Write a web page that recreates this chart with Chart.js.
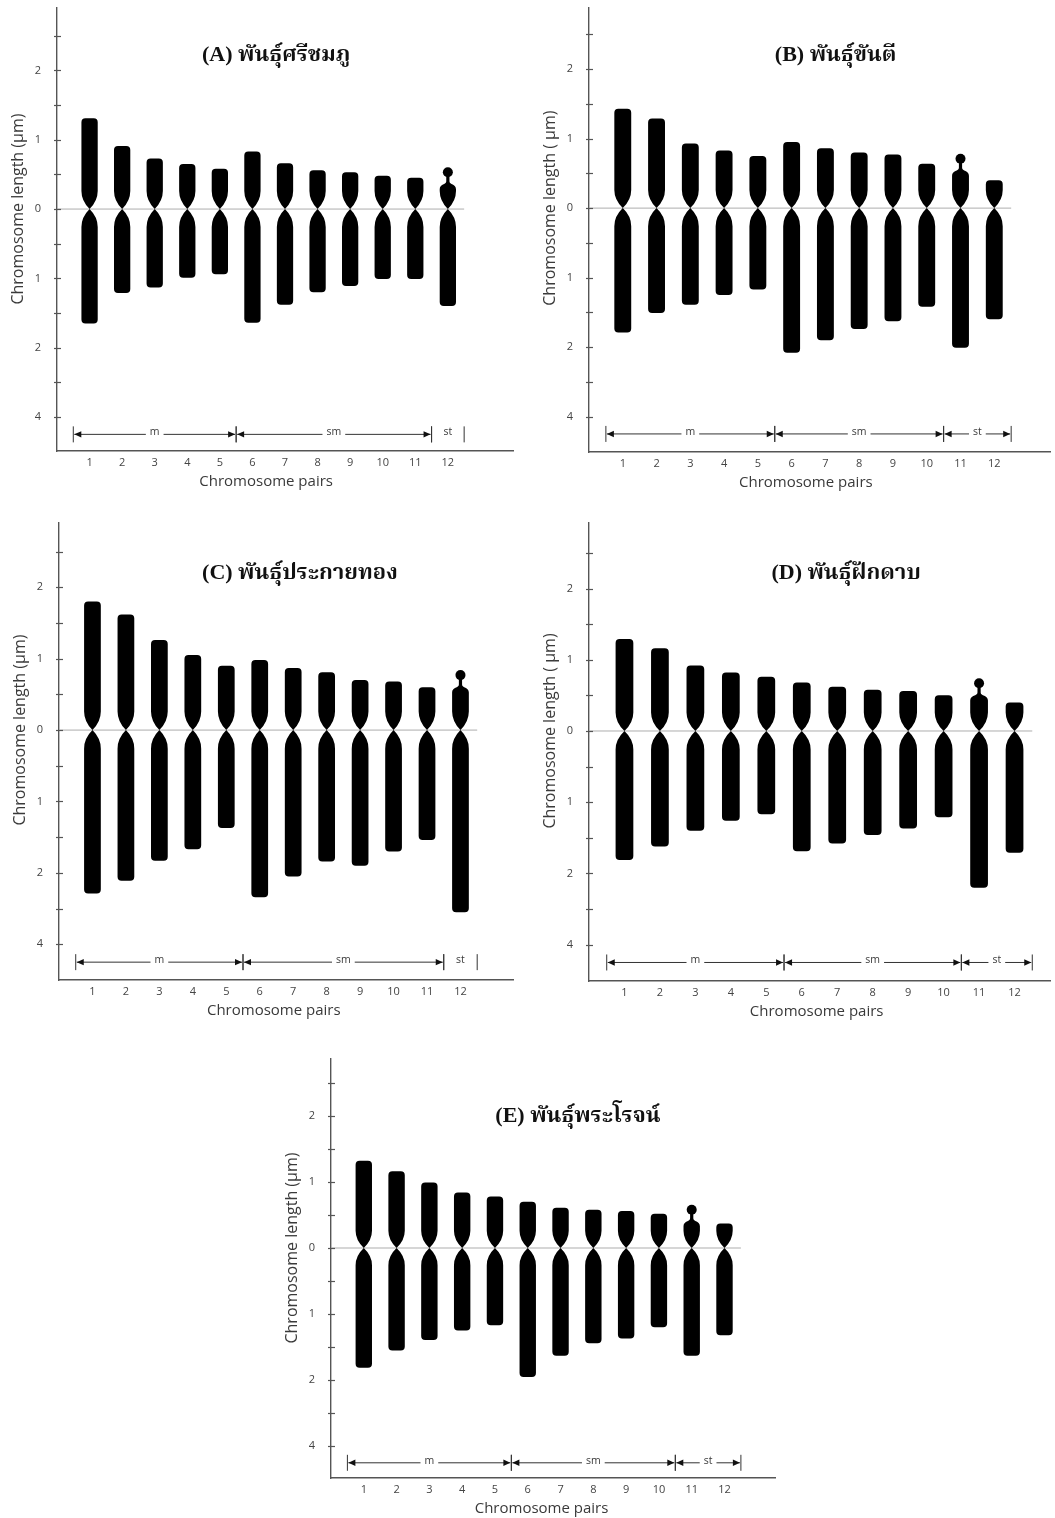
<!DOCTYPE html>
<html>
<head>
<meta charset="utf-8">
<script src="https://cdn.jsdelivr.net/npm/chart.js@4.4.1/dist/chart.umd.min.js"></script>
<style>
  html, body { margin: 0; padding: 0; background: #fff; }
  body { position: relative; width: 1055px; height: 1518px; overflow: hidden; }
  canvas { position: absolute; }
</style>
</head>
<body>
<canvas id="panelA"></canvas>
<canvas id="panelB"></canvas>
<canvas id="panelC"></canvas>
<canvas id="panelD"></canvas>
<canvas id="panelE"></canvas>
<script>
const pairs = [1, 2, 3, 4, 5, 6, 7, 8, 9, 10, 11, 12]

const shortA = [1.31, 0.91, 0.73, 0.65, 0.58, 0.83, 0.66, 0.56, 0.53, 0.48, 0.45, 0.40]
const longA = [1.65, 1.21, 1.13, 0.99, 0.94, 1.64, 1.38, 1.20, 1.11, 1.01, 1.01, 1.40]
const satPairA = 12
const satA = 0.53

const shortB = [1.43, 1.29, 0.93, 0.83, 0.75, 0.95, 0.86, 0.80, 0.77, 0.64, 0.58, 0.40]
const longB = [1.79, 1.51, 1.39, 1.25, 1.17, 2.08, 1.90, 1.74, 1.63, 1.42, 2.01, 1.60]
const satPairB = 11
const satB = 0.71

const shortC = [1.80, 1.62, 1.26, 1.05, 0.90, 0.98, 0.87, 0.81, 0.70, 0.68, 0.60, 0.64]
const longC = [2.29, 2.11, 1.83, 1.67, 1.37, 2.34, 2.05, 1.84, 1.90, 1.70, 1.54, 2.55]
const satPairC = 12
const satC = 0.77

const shortD = [1.29, 1.16, 0.92, 0.82, 0.76, 0.68, 0.62, 0.58, 0.56, 0.50, 0.54, 0.40]
const longD = [1.81, 1.62, 1.40, 1.26, 1.17, 1.69, 1.58, 1.46, 1.37, 1.21, 2.20, 1.71]
const satPairD = 11
const satD = 0.67

const shortE = [1.32, 1.16, 0.99, 0.84, 0.78, 0.70, 0.61, 0.58, 0.56, 0.52, 0.45, 0.37]
const longE = [1.81, 1.55, 1.39, 1.25, 1.17, 1.95, 1.63, 1.44, 1.37, 1.20, 1.63, 1.32]
const satPairE = 11
const satE = 0.58

// chromosome types (first and last pair of each group)
const classNames = ['m', 'sm', 'st']
const classFirst12 = [1, 6, 12]
const classLast12 = [5, 11, 12]
const classFirst11 = [1, 6, 11]
const classLast11 = [5, 10, 12]

const yTicks = [2.5, 2, 1.5, 1, 0.5, 0, -0.5, -1, -1.5, -2, -2.5, -3]
const yLabelValues = [2, 1, 0, -1, -2, -3]
const yLabelTexts = ['2', '1', '0', '1', '2', '4']

const panels = [
  {
    id: 'panelA', title: '(A) พันธุ์ศรีชมภู', yTitle: 'Chromosome length (μm)',
    shortArm: shortA, longArm: longA, satPair: satPairA, sat: satA, first: classFirst12, last: classLast12,
    box: { left: 0, top: 0, width: 530, height: 500 }, area: { left: 57, top: 8, right: 513, bottom: 451 },
    xMax: 14.0, yMin: -3.49, yMax: 2.90, titleAt: [6.73, 2.22],
  },
  {
    id: 'panelB', title: '(B) พันธุ์ขันตี', yTitle: 'Chromosome length ( μm)',
    shortArm: shortB, longArm: longB, satPair: satPairB, sat: satB, first: classFirst11, last: classLast11,
    box: { left: 530, top: 0, width: 525, height: 500 }, area: { left: 59, top: 8, right: 523, bottom: 452 },
    xMax: 13.65, yMin: -3.51, yMax: 2.88, titleAt: [7.3, 2.2],
  },
  {
    id: 'panelC', title: '(C) พันธุ์ประกายทอง', yTitle: 'Chromosome length (μm)',
    shortArm: shortC, longArm: longC, satPair: satPairC, sat: satC, first: classFirst12, last: classLast12,
    box: { left: 0, top: 510, width: 530, height: 520 }, area: { left: 59, top: 13, right: 513, bottom: 470 },
    xMax: 13.57, yMin: -3.50, yMax: 2.90, titleAt: [7.2, 2.19],
  },
  {
    id: 'panelD', title: '(D) พันธุ์ฝักดาบ', yTitle: 'Chromosome length ( μm)',
    shortArm: shortD, longArm: longD, satPair: satPairD, sat: satD, first: classFirst11, last: classLast11,
    box: { left: 530, top: 510, width: 525, height: 520 }, area: { left: 59, top: 13, right: 523, bottom: 471 },
    xMax: 13.0, yMin: -3.51, yMax: 2.92, titleAt: [7.25, 2.22],
  },
  {
    id: 'panelE', title: '(E) พันธุ์พระโรจน์', yTitle: 'Chromosome length (μm)',
    shortArm: shortE, longArm: longE, satPair: satPairE, sat: satE, first: classFirst11, last: classLast11,
    box: { left: 260, top: 1030, width: 540, height: 488 }, area: { left: 71, top: 29, right: 515, bottom: 448 },
    xMax: 13.54, yMin: -3.48, yMax: 2.86, titleAt: [7.53, 1.99],
  },
]

const X_AXIS_HEIGHT = 40
const AXIS_COLOR = '#555'
const TEXT_COLOR = '#3a3a3a'
const SAT_RADIUS = 5

Chart.defaults.font.family = '"Open Sans", "Noto Sans", sans-serif'

function drawChromosome(ctx, cx, half, top, mid, bottom, taper, satY) {
  const r = Math.min(4, half)
  const bulge = taper * 0.45
  const cap = 8
  const neck = 1.6
  ctx.beginPath()
  if (satY !== null) {
    // bell shaped top with a thin stalk up to the satellite
    ctx.moveTo(cx - neck, satY)
    ctx.lineTo(cx + neck, satY)
    ctx.lineTo(cx + neck, top)
    ctx.bezierCurveTo(cx + neck, top + cap * 0.45, cx + half, top + cap * 0.3, cx + half, top + cap)
  } else {
    ctx.moveTo(cx - half, top + r)
    ctx.quadraticCurveTo(cx - half, top, cx - half + r, top)
    ctx.lineTo(cx + half - r, top)
    ctx.quadraticCurveTo(cx + half, top, cx + half, top + r)
  }
  ctx.lineTo(cx + half, mid - taper)
  ctx.quadraticCurveTo(cx + half, mid - bulge, cx, mid)
  ctx.quadraticCurveTo(cx + half, mid + bulge, cx + half, mid + taper)
  ctx.lineTo(cx + half, bottom - r)
  ctx.quadraticCurveTo(cx + half, bottom, cx + half - r, bottom)
  ctx.lineTo(cx - half + r, bottom)
  ctx.quadraticCurveTo(cx - half, bottom, cx - half, bottom - r)
  ctx.lineTo(cx - half, mid + taper)
  ctx.quadraticCurveTo(cx - half, mid + bulge, cx, mid)
  ctx.quadraticCurveTo(cx - half, mid - bulge, cx - half, mid - taper)
  if (satY !== null) {
    ctx.lineTo(cx - half, top + cap)
    ctx.bezierCurveTo(cx - half, top + cap * 0.3, cx - neck, top + cap * 0.45, cx - neck, top)
  }
  ctx.closePath()
  ctx.fill()
}

function arrowHead(ctx, tipX, y, dir) {
  ctx.beginPath()
  ctx.moveTo(tipX, y)
  ctx.lineTo(tipX - dir * 7, y - 3.2)
  ctx.lineTo(tipX - dir * 7, y + 3.2)
  ctx.closePath()
  ctx.fill()
}

const karyotype = {
  id: 'karyotype',
  beforeDatasetsDraw(chart, args, opts) {
    const { ctx, scales: { x, y } } = chart
    ctx.save()
    ctx.strokeStyle = '#adadad'
    ctx.lineWidth = 1
    ctx.beginPath()
    ctx.moveTo(x.getPixelForValue(0), y.getPixelForValue(0))
    ctx.lineTo(x.getPixelForValue(12.5), y.getPixelForValue(0))
    ctx.stroke()
    ctx.restore()
  },
  afterDatasetsDraw(chart, args, opts) {
    const { ctx, scales: { y } } = chart
    const shortMeta = chart.getDatasetMeta(0)
    const longMeta = chart.getDatasetMeta(1)
    const satPoint = chart.getDatasetMeta(2).data[0]
    const mid = y.getPixelForValue(0)
    const taper = Math.abs(y.getPixelForValue(0.26) - mid)
    ctx.save()
    ctx.fillStyle = '#000'
    shortMeta.data.forEach((bar, i) => {
      const low = longMeta.data[i]
      const top = Math.min(bar.y, bar.base)
      const bottom = Math.max(low.y, low.base)
      const satY = pairs[i] === opts.satPair ? satPoint.y + SAT_RADIUS - 1 : null
      drawChromosome(ctx, bar.x, bar.width / 2, top, mid, bottom, taper, satY)
    })
    ctx.restore()
  },
  afterDraw(chart, args, opts) {
    const { ctx, scales: { x, y } } = chart
    ctx.save()

    // tick marks crossing the y axis
    ctx.strokeStyle = AXIS_COLOR
    ctx.lineWidth = 1.2
    yTicks.forEach((v) => {
      const py = Math.round(y.getPixelForValue(v)) + 0.5
      ctx.beginPath()
      ctx.moveTo(y.right - 3, py)
      ctx.lineTo(y.right + 4, py)
      ctx.stroke()
    })

    // axis titles
    ctx.fillStyle = TEXT_COLOR
    ctx.font = '15px "Open Sans", sans-serif'
    ctx.textAlign = 'center'
    ctx.textBaseline = 'middle'
    ctx.fillText('Chromosome pairs', x.getPixelForValue(6.42), x.bottom - 9)
    ctx.font = '16px "Open Sans", sans-serif'
    ctx.translate(y.right - 39, y.getPixelForValue(0))
    ctx.rotate(-Math.PI / 2)
    ctx.fillText(opts.yTitle, 0, 0)
    ctx.setTransform(1, 0, 0, 1, 0, 0)

    // m / sm / st groups
    const yBar = y.getPixelForValue(-3.25)
    ctx.strokeStyle = '#333'
    ctx.lineWidth = 1
    ctx.font = '10.5px "Open Sans", sans-serif'
    classNames.forEach((name, k) => {
      const x0 = x.getPixelForValue(opts.first[k] - 0.5)
      const x1 = x.getPixelForValue(opts.last[k] + 0.5)
      ctx.beginPath()
      ctx.moveTo(x0, yBar - 8)
      ctx.lineTo(x0, yBar + 8)
      ctx.moveTo(x1, yBar - 8)
      ctx.lineTo(x1, yBar + 8)
      ctx.stroke()
      const xc = (x0 + x1) / 2
      ctx.fillStyle = TEXT_COLOR
      ctx.fillText(name, xc, yBar - 2)
      if (opts.last[k] > opts.first[k]) {
        const tw = ctx.measureText(name).width
        ctx.beginPath()
        ctx.moveTo(x0 + 1, yBar)
        ctx.lineTo(xc - tw / 2 - 4, yBar)
        ctx.moveTo(xc + tw / 2 + 4, yBar)
        ctx.lineTo(x1 - 1, yBar)
        ctx.stroke()
        ctx.fillStyle = '#111'
        arrowHead(ctx, x0 + 1, yBar, -1)
        arrowHead(ctx, x1 - 1, yBar, 1)
      }
    })

    // panel title
    ctx.fillStyle = '#111'
    ctx.font = 'bold 22px "Liberation Serif", "Noto Serif Thai", "Noto Sans Thai", serif'
    ctx.fillText(opts.title, x.getPixelForValue(opts.titleAt[0]), y.getPixelForValue(opts.titleAt[1]))
    ctx.restore()
  },
}

panels.forEach((panel) => {
  const canvas = document.getElementById(panel.id)
  canvas.width = panel.box.width
  canvas.height = panel.box.height
  canvas.style.left = `${panel.box.left}px`
  canvas.style.top = `${panel.box.top}px`

  const barStyle = {
    backgroundColor: 'rgba(0,0,0,0)',
    borderWidth: 0,
    grouped: false,
    categoryPercentage: 1,
    barPercentage: 0.5,
  }

  new Chart(canvas, {
    type: 'bar',
    data: {
      datasets: [
        { label: 'short arm', data: pairs.map((p, i) => ({ x: p, y: [0, panel.shortArm[i]] })), ...barStyle },
        { label: 'long arm', data: pairs.map((p, i) => ({ x: p, y: [-panel.longArm[i], 0] })), ...barStyle },
        {
          type: 'line',
          label: 'satellite',
          data: [{ x: panel.satPair, y: panel.sat }],
          showLine: false,
          pointRadius: SAT_RADIUS,
          pointBackgroundColor: '#000',
          pointBorderWidth: 0,
        },
      ],
    },
    options: {
      responsive: false,
      animation: false,
      devicePixelRatio: 1,
      layout: {
        padding: {
          left: 0,
          top: panel.area.top,
          right: panel.box.width - panel.area.right,
          bottom: panel.box.height - panel.area.bottom - X_AXIS_HEIGHT,
        },
      },
      plugins: {
        legend: { display: false },
        tooltip: { enabled: false },
        karyotype: {
          satPair: panel.satPair,
          first: panel.first,
          last: panel.last,
          title: panel.title,
          titleAt: panel.titleAt,
          yTitle: panel.yTitle,
        },
      },
      scales: {
        x: {
          type: 'linear',
          min: 0,
          max: panel.xMax,
          offset: false,
          grid: { display: false, drawTicks: false },
          border: { display: true, color: AXIS_COLOR, width: 1.4 },
          afterBuildTicks: (s) => { s.ticks = pairs.map((v) => ({ value: v })) },
          afterFit: (s) => {
            s.height = X_AXIS_HEIGHT
            s.paddingLeft = 0
            s.paddingRight = 0
          },
          ticks: {
            autoSkip: false,
            maxRotation: 0,
            padding: 5,
            color: '#444',
            font: { size: 11 },
            callback: (v) => String(v),
          },
        },
        y: {
          type: 'linear',
          min: panel.yMin,
          max: panel.yMax,
          grid: { display: false, drawTicks: false },
          border: { display: true, color: AXIS_COLOR, width: 1.4 },
          afterBuildTicks: (s) => { s.ticks = yTicks.map((v) => ({ value: v })) },
          afterFit: (s) => {
            s.width = panel.area.left
            s.paddingTop = 0
            s.paddingBottom = 0
          },
          ticks: {
            autoSkip: false,
            padding: 16,
            color: '#444',
            font: { size: 11 },
            callback: (v) => {
              const k = yLabelValues.indexOf(v)
              return k >= 0 ? yLabelTexts[k] : ''
            },
          },
        },
      },
    },
    plugins: [karyotype],
  })
})
</script>
</body>
</html>
